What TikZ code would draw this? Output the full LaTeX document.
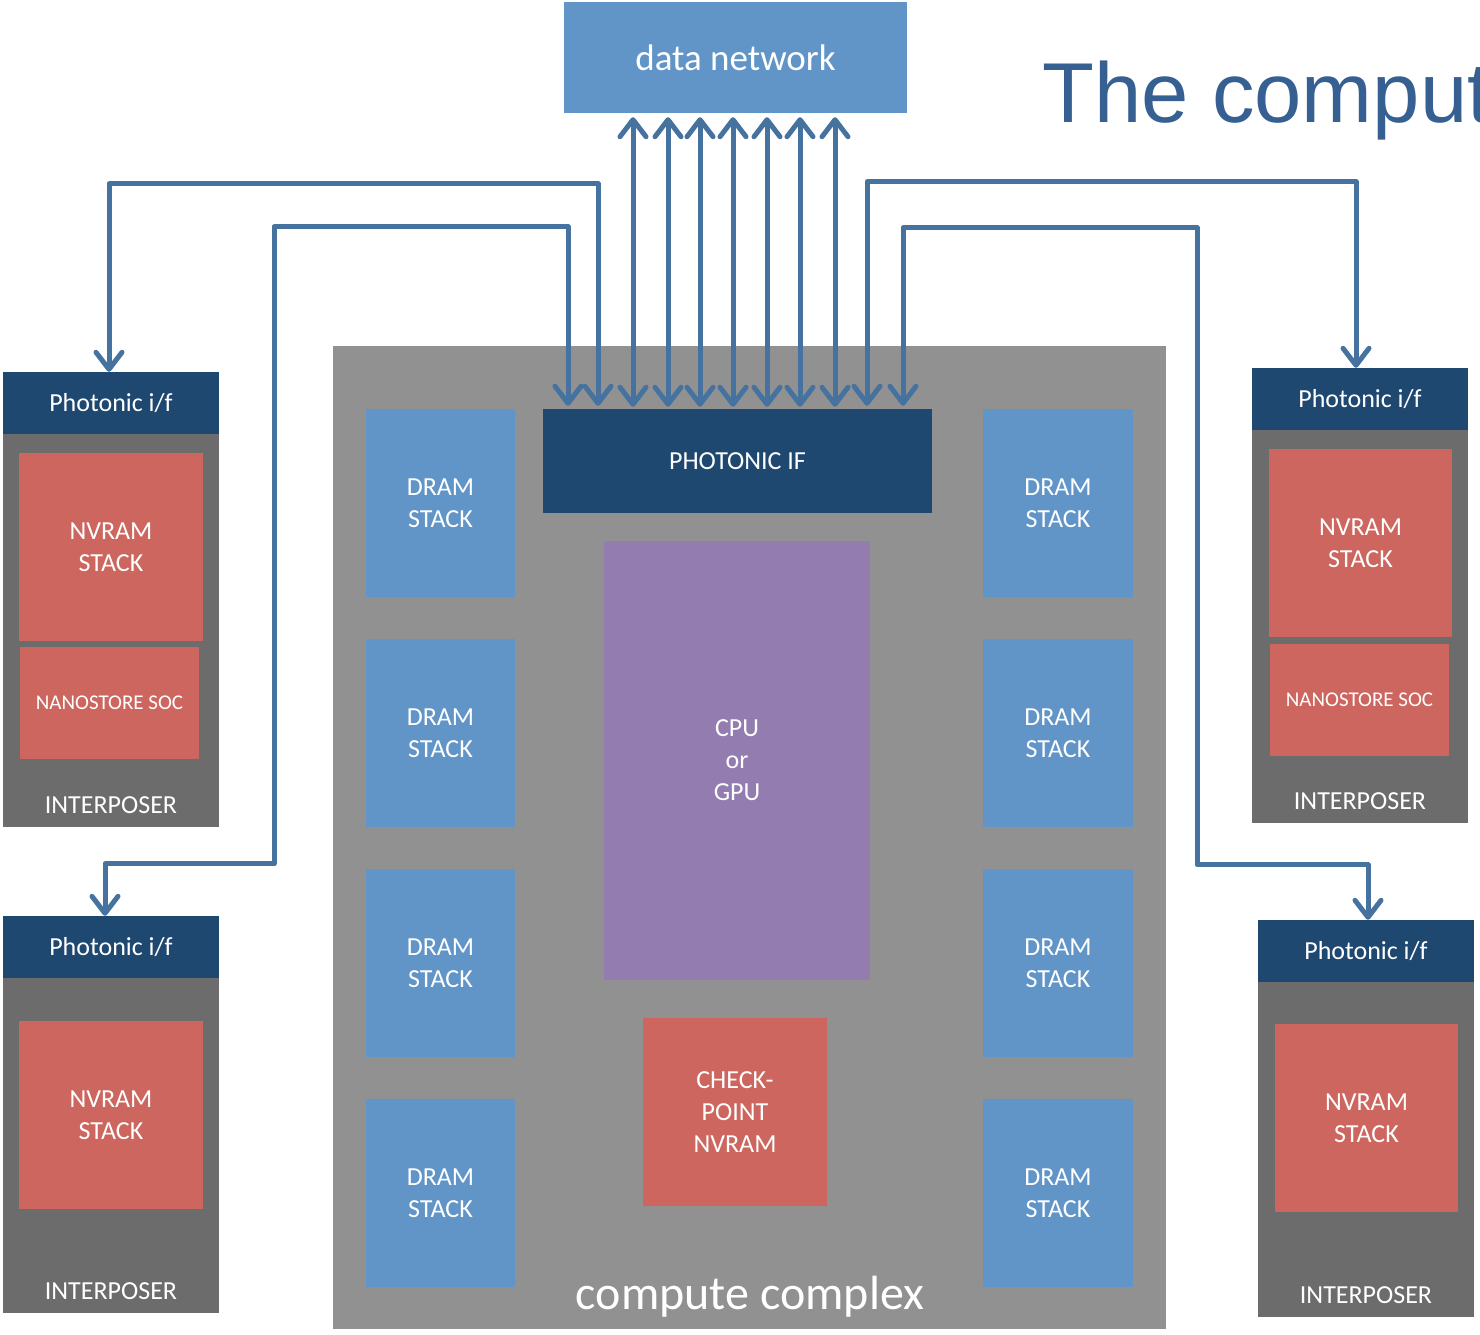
\documentclass[tikz,border=0pt]{standalone}
\usepackage{xcolor}
\usepackage{fontspec}
\setmainfont{Carlito}
\newfontfamily\titlefont{Liberation Sans}
\usepackage{tikz}
\usetikzlibrary{arrows, arrows.meta}

\definecolor{netblue}{RGB}{97,149,199}
\definecolor{pifblue}{RGB}{31,72,113}
\definecolor{cgray}{RGB}{145,145,145}
\definecolor{ipgray}{RGB}{108,108,108}
\definecolor{nvred}{RGB}{205,102,95}
\definecolor{cpupurple}{RGB}{147,124,176}
\definecolor{linkblue}{RGB}{70,114,160}
\definecolor{titleblue}{RGB}{55,96,146}

\newcommand{\boxfont}{\fontsize{26}{32}\selectfont}
\newcommand{\socfont}{\fontsize{21}{26}\selectfont}

\tikzset{
  box/.style={rectangle, inner sep=0pt, align=center, text=white, font=\boxfont},
  dram/.style={box, fill=netblue, minimum width=149pt, minimum height=188pt},
  nvram/.style={box, fill=nvred, minimum width=184pt, minimum height=188pt},
  nanosoc/.style={box, fill=nvred, minimum width=179pt, minimum height=112pt, font=\socfont},
  phif/.style={box, fill=pifblue, minimum width=216pt, minimum height=62pt},
  interposer/.style={rectangle, fill=ipgray, inner sep=0pt, minimum width=216pt},
  link/.style={draw=linkblue, line width=5pt, line join=round,
    >={Straight Barb[length=17pt, width=26pt, round]}}
}

\begin{document}
\begin{tikzpicture}[x=1pt, y=-1pt]

\clip (0,0) rectangle (1480,1335);
\fill[white] (0,0) rectangle (1480,1335);

% title, runs off the right edge
\node[anchor=base west, inner sep=0pt, text=titleblue,
  font=\titlefont\fontsize{85}{100}\selectfont] (title) at (1042,123) {The comput};

% network on top
\node[box, fill=netblue, minimum width=343pt, minimum height=111pt,
  font=\fontsize{37}{44}\selectfont] (net) at (735.5,57.5) {data network};

% compute complex
\node[rectangle, fill=cgray, inner sep=0pt, minimum width=833pt, minimum height=983pt] (cc) at (749.5,837.5) {};
\node[text=white, inner sep=0pt, anchor=base, font=\fontsize{48}{54}\selectfont] (cclabel) at (750,1309) {compute complex};

\node[box, fill=pifblue, minimum width=389pt, minimum height=104pt] (pif) at (737.5,461) {PHOTONIC IF};
\node[box, fill=cpupurple, minimum width=266pt, minimum height=439pt] (cpu) at (737,760.5) {CPU\\or\\GPU};
\node[nvram] (ckpt) at (735,1112) {CHECK-\\POINT\\NVRAM};

\foreach \y [count=\i] in {503,733,963,1193} {
  \node[dram] (dl\i) at (440.5,\y) {DRAM\\STACK};
  \node[dram, minimum width=150pt] (dr\i) at (1058,\y) {DRAM\\STACK};
}

% left modules
\node[interposer, minimum height=393pt] (ltb) at (111,630.5) {};
\node[phif] (lt) at (111,403) {Photonic i/f};
\node[nvram] (ltn) at (111,547) {NVRAM\\STACK};
\node[nanosoc] (lts) at (109.5,703) {NANOSTORE SOC};
\node[box] (lti) at (111,805) {INTERPOSER};

\node[interposer, minimum height=335pt] (lbb) at (111,1145.5) {};
\node[phif] (lb) at (111,947) {Photonic i/f};
\node[nvram] (lbn) at (111,1115) {NVRAM\\STACK};
\node[box] (lbi) at (111,1291) {INTERPOSER};

% right modules
\node[interposer, minimum height=393pt] (rtb) at (1360,626.5) {};
\node[phif] (rt) at (1360,399) {Photonic i/f};
\node[nvram, minimum width=183pt] (rtn) at (1360.5,543) {NVRAM\\STACK};
\node[nanosoc] (rts) at (1359.5,700) {NANOSTORE SOC};
\node[box] (rti) at (1360,801) {INTERPOSER};

\node[interposer, minimum height=335pt] (rbb) at (1366,1149.5) {};
\node[phif] (rb) at (1366,951) {Photonic i/f};
\node[nvram, minimum width=183pt] (rbn) at (1366.5,1118) {NVRAM\\STACK};
\node[box] (rbi) at (1366,1295) {INTERPOSER};

% links between the photonic interfaces
\foreach \dx in {-104.5,-69.5,-37.5,-4.5,29.5,62.5,97.5}
  \draw[link, <->, shorten <=2pt, shorten >=4pt]
    ([xshift=\dx pt]pif.north) -- ([xshift=\dx pt]pif.north |- net.south);

\draw[link, <->, shorten <=3pt] ([xshift=-139.5pt]pif.north) -- ++(0,-225) -| ([xshift=-2pt]lt.north);
\draw[link, <->, shorten <=3pt] ([xshift=-169.5pt]pif.north) -- ++(0,-182) -| ++(-294,637) -| ([xshift=-6pt]lb.north);
\draw[link, <->, shorten <=3pt] ([xshift=129.5pt]pif.north) -- ++(0,-227) -| ([xshift=-4pt]rt.north);
\draw[link, <->, shorten <=3pt] ([xshift=165.5pt]pif.north) -- ++(0,-181) -| ++(294,637) -| ([xshift=2pt]rb.north);

\end{tikzpicture}
\end{document}
